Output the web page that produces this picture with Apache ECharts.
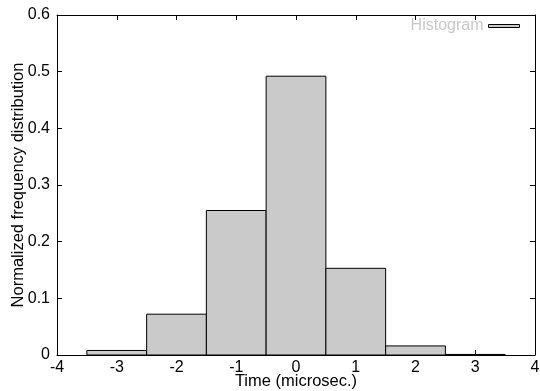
<!DOCTYPE html>
<html>
<head>
<meta charset="utf-8">
<script src="https://cdn.jsdelivr.net/npm/echarts@6/dist/echarts.min.js"></script>
<style>
  html, body { margin: 0; padding: 0; background: #fff; }
  #chart { width: 540px; height: 391px; }
</style>
</head>
<body>
<div id="chart"></div>
<script>
// Histogram bins: centre of each bin (microseconds) and normalized frequency
const binCenters = [-3, -2, -1, 0, 1, 2, 3];
const frequencies = [0.008, 0.072, 0.255, 0.492, 0.153, 0.016, 0.001];
const binWidth = 1;

const xTicks = ['-4', '-3', '-2', '-1', '0', '1', '2', '3', '4'];
const yTicks = ['0', '0.1', '0.2', '0.3', '0.4', '0.5', '0.6'];

const FONT = 'Liberation Sans, Arial, sans-serif';
const FS = 16;
const FILL = '#cacaca';

const chart = echarts.init(document.getElementById('chart'), null, { renderer: 'canvas' });

const histData = binCenters.map((c, i) => [c, frequencies[i]]);

function axisBase() {
  return {
    axisLine: { show: true, onZero: false, lineStyle: { color: '#000', width: 1 } },
    axisTick: { show: true, inside: true, length: 5, lineStyle: { color: '#000' } },
    splitLine: { show: false }
  };
}

chart.setOption({
  animation: false,
  grid: { left: 57, right: 5, top: 15, bottom: 36, containLabel: false, outerBoundsMode: 'none' },
  legend: {
    show: true,
    right: 15,
    top: 13,
    align: 'right',
    itemWidth: 31,
    itemHeight: 3,
    itemGap: 0,
    textStyle: { color: '#c8c8c8', fontFamily: FONT, fontSize: FS },
    data: [{ name: 'Histogram', icon: 'rect', itemStyle: { color: FILL, borderColor: '#000', borderWidth: 1 } }]
  },
  xAxis: [
    Object.assign(axisBase(), {
      type: 'value', min: -4, max: 4, interval: 1,
      name: 'Time (microsec.)', nameLocation: 'middle', nameGap: 18, nameMoveOverlap: false,
      nameTextStyle: { fontFamily: FONT, fontSize: 16.5, color: '#000' },
      axisLabel: { fontFamily: FONT, fontSize: FS, color: '#000', margin: 5,
        formatter: (v) => xTicks[Math.round(v) + 4] }
    }),
    Object.assign(axisBase(), {
      type: 'value', position: 'top', min: -4, max: 4, interval: 1,
      axisLabel: { show: false }
    })
  ],
  yAxis: [
    Object.assign(axisBase(), {
      type: 'value', min: 0, max: 0.6, interval: 0.1,
      name: 'Normalized frequency distribution', nameLocation: 'middle', nameGap: 30, nameMoveOverlap: false,
      nameTextStyle: { fontFamily: FONT, fontSize: 16.5, color: '#000' },
      axisLabel: { fontFamily: FONT, fontSize: FS, color: '#000', margin: 7,
        formatter: (v) => yTicks[Math.round(v * 10)] }
    }),
    Object.assign(axisBase(), {
      type: 'value', position: 'right', min: 0, max: 0.6, interval: 0.1,
      axisLabel: { show: false }
    })
  ],
  series: [{
    name: 'Histogram',
    type: 'custom',
    xAxisIndex: 0,
    yAxisIndex: 0,
    data: histData,
    itemStyle: { color: FILL, borderColor: '#000', borderWidth: 1 },
    renderItem: function (params, api) {
      const c = api.value(0);
      const v = api.value(1);
      const p0 = api.coord([c - binWidth / 2, 0]);
      const p1 = api.coord([c + binWidth / 2, v]);
      return {
        type: 'rect',
        shape: { x: p0[0], y: p1[1], width: p1[0] - p0[0], height: p0[1] - p1[1] },
        style: { fill: FILL, stroke: '#000', lineWidth: 1 }
      };
    }
  }]
});
</script>
</body>
</html>
